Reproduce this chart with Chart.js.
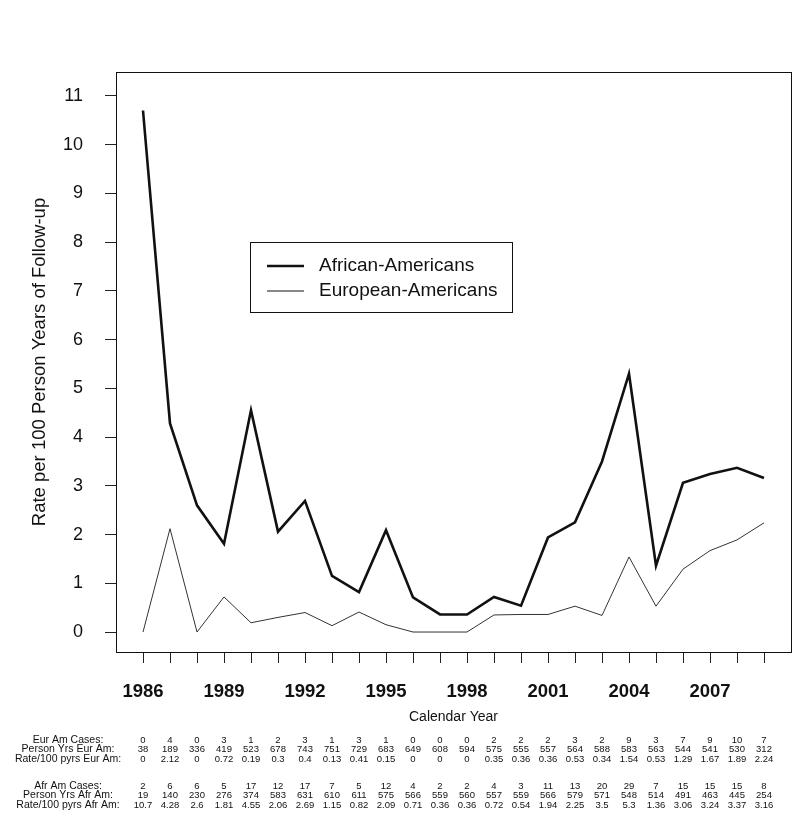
<!DOCTYPE html>
<html>
<head>
<meta charset="utf-8">
<script src="https://cdn.jsdelivr.net/npm/chart.js@4.4.1/dist/chart.umd.min.js"></script>
<style>
	body { margin: 0; background: #fff; }
	canvas { display: block; }
</style>
</head>
<body>
<canvas id="Rate_Plot" width="800" height="836"></canvas>
<script>
// Yearly data, 1986 - 2009
const years = [1986, 1987, 1988, 1989, 1990, 1991, 1992, 1993, 1994, 1995, 1996, 1997,
	1998, 1999, 2000, 2001, 2002, 2003, 2004, 2005, 2006, 2007, 2008, 2009];

const afr_rate = [10.7, 4.28, 2.6, 1.81, 4.55, 2.06, 2.69, 1.15, 0.82, 2.09, 0.71, 0.36,
	0.36, 0.72, 0.54, 1.94, 2.25, 3.5, 5.3, 1.36, 3.06, 3.24, 3.37, 3.16];
const eur_rate = [0, 2.12, 0, 0.72, 0.19, 0.3, 0.4, 0.13, 0.41, 0.15, 0, 0,
	0, 0.35, 0.36, 0.36, 0.53, 0.34, 1.54, 0.53, 1.29, 1.67, 1.89, 2.24];

const eur_cases = [0, 4, 0, 3, 1, 2, 3, 1, 3, 1, 0, 0, 0, 2, 2, 2, 3, 2, 9, 3, 7, 9, 10, 7];
const eur_pyrs = [38, 189, 336, 419, 523, 678, 743, 751, 729, 683, 649, 608,
	594, 575, 555, 557, 564, 588, 583, 563, 544, 541, 530, 312];
const afr_cases = [2, 6, 6, 5, 17, 12, 17, 7, 5, 12, 4, 2, 2, 4, 3, 11, 13, 20, 29, 7, 15, 15, 15, 8];
const afr_pyrs = [19, 140, 230, 276, 374, 583, 631, 610, 611, 575, 566, 559,
	560, 557, 559, 566, 579, 571, 548, 514, 491, 463, 445, 254];

const y_ticks = [0, 1, 2, 3, 4, 5, 6, 7, 8, 9, 10, 11];

const table_rows = [
	["Eur Am Cases:", eur_cases],
	["Person Yrs Eur Am:", eur_pyrs],
	["Rate/100 pyrs Eur Am:", eur_rate],
	["Afr Am Cases:", afr_cases],
	["Person Yrs Afr Am:", afr_pyrs],
	["Rate/100 pyrs Afr Am:", afr_rate],
];
const table_y = [740, 749.5, 759, 786, 795.5, 805];

Chart.defaults.font.family = '"Liberation Sans", Arial, sans-serif';
Chart.defaults.color = '#111';

const legend_items = [
	["African-Americans", 2.6],
	["European-Americans", 1],
];

// box around plot, legend and table underneath
const extras = {
	id: 'extras',
	afterDraw(chart) {
		const ctx = chart.ctx;
		const a = chart.chartArea;
		const xs = chart.scales.x;
		ctx.save();
		ctx.strokeStyle = '#111';
		ctx.lineWidth = 1;
		ctx.strokeRect(a.left + 0.5, a.top + 0.5, a.right - a.left, a.bottom - a.top);

		// legend
		ctx.strokeRect(250.5, 242.5, 262, 70);
		ctx.font = '19px "Liberation Sans", Arial, sans-serif';
		ctx.textAlign = 'left';
		ctx.textBaseline = 'middle';
		legend_items.forEach(function(item, i) {
			const y = 266 + i * 25;
			ctx.lineWidth = item[1];
			ctx.beginPath();
			ctx.moveTo(267, y);
			ctx.lineTo(304, y);
			ctx.stroke();
			ctx.fillStyle = '#111';
			ctx.fillText(item[0], 319, y);
		});

		// table
		table_rows.forEach(function(row, r) {
			const y = table_y[r];
			ctx.font = '10.5px "Liberation Sans", Arial, sans-serif';
			ctx.textAlign = 'center';
			ctx.fillText(row[0], 68, y);
			ctx.font = '9.5px "Liberation Sans", Arial, sans-serif';
			row[1].forEach(function(v, i) {
				ctx.fillText(String(v), xs.getPixelForValue(years[i]), y);
			});
		});
		ctx.restore();
	}
};

var Rate_Plot_Obj = new Chart(document.getElementById("Rate_Plot").getContext("2d"), {
	type: "line",
	data: {
		datasets: [
			{
				// African-Americans
				data: years.map((yr, i) => ({x: yr, y: afr_rate[i]})),
				borderColor: "#111",
				borderWidth: 2.6,
				pointRadius: 0,
				lineTension: 0,
				fill: false,
			},
			{
				// European-Americans
				data: years.map((yr, i) => ({x: yr, y: eur_rate[i]})),
				borderColor: "#333",
				borderWidth: 1,
				pointRadius: 0,
				lineTension: 0,
				fill: false,
			}
		]
	},
	options: {
		responsive: false,
		animation: false,
		events: [],
		layout: {
			padding: {left: 0, top: 72, right: 9, bottom: 109}
		},
		plugins: {
			legend: {display: false},
			tooltip: {enabled: false},
		},
		scales: {
			x: {
				type: 'linear',
				min: 1985,
				max: 2010,
				afterBuildTicks: (s) => { s.ticks = years.map(v => ({value: v})); },
				afterFit: (s) => { s.height = 75; },
				border: {display: false},
				grid: {
					drawOnChartArea: false,
					tickLength: 11,
					tickColor: '#222',
				},
				ticks: {
					autoSkip: false,
					maxRotation: 0,
					padding: 18,
					font: {size: 18.5, weight: 'bold'},
					callback: (v) => ((v - 1986) % 3 === 0 ? String(v) : ''),
				},
				title: {
					display: true,
					text: 'Calendar Year',
					font: {size: 14},
					padding: {top: 0, bottom: 1},
				},
			},
			y: {
				min: -0.41,
				max: 11.49,
				afterBuildTicks: (s) => { s.ticks = y_ticks.map(v => ({value: v})); },
				afterFit: (s) => { s.width = 116; },
				border: {display: false},
				grid: {
					drawOnChartArea: false,
					tickLength: 11,
					tickColor: '#222',
				},
				ticks: {
					autoSkip: false,
					padding: 22,
					font: {size: 18},
				},
				title: {
					display: true,
					text: 'Rate per 100 Person Years of Follow-up',
					font: {size: 18.5},
					padding: {top: 29, bottom: 0},
				},
			}
		}
	},
	plugins: [extras]
});
</script>
</body>
</html>
